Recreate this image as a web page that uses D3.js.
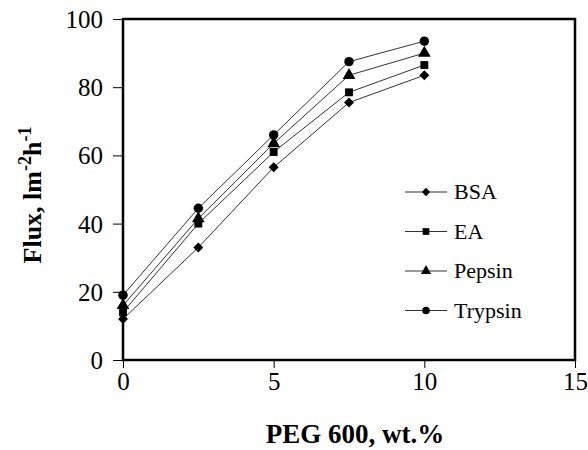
<!DOCTYPE html>
<meta charset="utf-8">
<script src="https://cdn.jsdelivr.net/npm/d3@7"></script>
<style>
    body { margin: 0; background: #fff; }
    text { font-family: "Liberation Serif", "Times New Roman", serif; fill: #000; }
</style>
<div id="chart"></div>
<script>
    // data
    const peg = [0, 2.5, 5, 7.5, 10];
    const bsa = [12, 33, 56.5, 75.5, 83.5];
    const ea = [14, 40, 61, 78.5, 86.5];
    const pepsin = [16, 41.5, 63.5, 83.5, 90];
    const trypsin = [19, 44.5, 66, 87.5, 93.5];
    const seriesNames = ["BSA", "EA", "Pepsin", "Trypsin"];
    const xTicks = [0, 5, 10, 15];
    const yTicks = [0, 20, 40, 60, 80, 100];

    const series = [
        {name: "BSA", values: bsa, symbol: d3.symbolSquare, rot: 45},
        {name: "EA", values: ea, symbol: d3.symbolSquare, rot: 0},
        {name: "Pepsin", values: pepsin, symbol: d3.symbolTriangle, rot: 0},
        {name: "Trypsin", values: trypsin, symbol: d3.symbolCircle, rot: 0}
    ];

    let margin = {top: 19, right: 13, bottom: 90, left: 123},
        width = 588 - margin.left - margin.right,
        height = 450 - margin.top - margin.bottom;

    let svg = d3.select("#chart").append("svg")
        .attr("width", 588)
        .attr("height", 450);

    let g = svg.append("g")
        .attr("transform", `translate(${margin.left},${margin.top})`);

    let x = d3.scaleLinear().domain([0, 15]).range([0, width]);
    let y = d3.scaleLinear().domain([0, 100]).range([height, 0]);

    let xAxis = d3.axisBottom(x).tickValues(xTicks).tickSize(8).tickPadding(4);
    let yAxis = d3.axisLeft(y).tickValues(yTicks).tickSize(10).tickPadding(10);

    let gx = g.append("g").attr("transform", `translate(0,${height})`).call(xAxis);
    let gy = g.append("g").call(yAxis);
    [gx, gy].forEach(a => {
        a.attr("font-size", 25).attr("font-family", "Liberation Serif");
        a.select(".domain").remove();
        a.selectAll(".tick line").attr("stroke", "#000").attr("stroke-width", 1);
        a.selectAll(".tick text").attr("font-size", 25).style("font-size", "25px");
    });
    gy.selectAll(".tick text").attr("dy", "0.34em");

    // frame
    g.append("rect")
        .attr("width", width).attr("height", height)
        .attr("fill", "none").attr("stroke", "#000").attr("stroke-width", 2.5);

    let line = d3.line().x((d, i) => x(peg[i])).y(d => y(d));

    const symSize = s => s.rot ? 50 : (s.symbol === d3.symbolSquare ? 62 : 70);

    series.forEach(s => {
        g.append("path")
            .datum(s.values)
            .attr("d", line)
            .attr("fill", "none")
            .attr("stroke", "#333")
            .attr("stroke-width", 1);
        g.selectAll(null)
            .data(s.values)
            .enter().append("path")
            .attr("transform", (d, i) => `translate(${x(peg[i])},${y(d)}) rotate(${s.rot})`)
            .attr("d", d3.symbol().type(s.symbol).size(symSize(s)))
            .attr("fill", "#000");
    });

    // legend
    let legend = svg.append("g").attr("transform", "translate(405,192)");
    series.forEach((s, i) => {
        let row = legend.append("g").attr("transform", `translate(0,${i * 39.5})`);
        row.append("line").attr("x1", 0).attr("x2", 42).attr("stroke", "#333").attr("stroke-width", 1);
        row.append("path")
            .attr("transform", `translate(21,0) rotate(${s.rot})`)
            .attr("d", d3.symbol().type(s.symbol).size(s.rot ? 35 : 45))
            .attr("fill", "#000");
        row.append("text")
            .attr("x", 49).attr("y", 7)
            .style("font-size", "22px")
            .text(seriesNames[i]);
    });

    // axis titles
    svg.append("text")
        .attr("x", 355).attr("y", 443)
        .attr("text-anchor", "middle")
        .style("font-size", "27px").style("font-weight", "bold")
        .text("PEG 600, wt.%");

    let yt = svg.append("text")
        .attr("transform", "translate(41,195) rotate(-90)")
        .attr("text-anchor", "middle")
        .style("font-size", "26px").style("font-weight", "bold");
    yt.append("tspan").text("Flux, lm");
    yt.append("tspan").attr("dy", -10).style("font-size", "18px").text("-2");
    yt.append("tspan").attr("dy", 10).text("h");
    yt.append("tspan").attr("dy", -10).style("font-size", "18px").text("-1");
</script>
